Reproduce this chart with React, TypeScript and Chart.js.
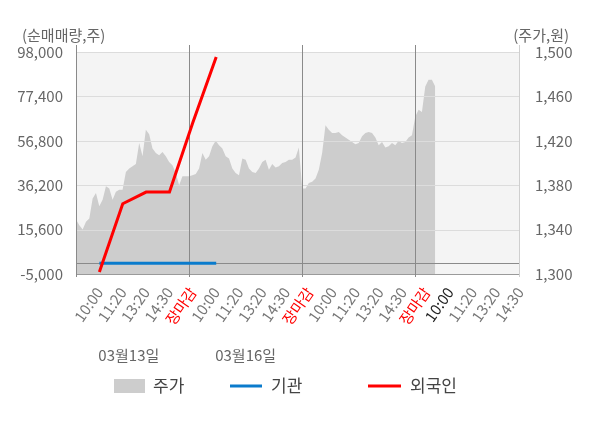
import React, { useEffect, useRef } from 'react';
import { Chart, registerables } from 'chart.js';

Chart.register(...registerables);

// x slots for investor data (category axis)
const slotLabels = [
  '', '10:00', '11:20', '13:20', '14:30', '장마감',
  '10:00', '11:20', '13:20', '14:30', '장마감',
  '10:00', '11:20', '13:20', '14:30', '장마감',
  '10:00', '11:20', '13:20', '14:30',
];
const CURRENT_SLOT = 16;

// net buying (shares)
const foreignNet = [null, -4100, 27600, 33000, 33000, 65300, 95700];
const instNet = [null, 0, 0, 0, 0, 0, 0];

const dateLabels = ['03월13일', '03월16일'];
const dateSlots = [1, 6];

// price (won), sampled evenly within each trading day
const day1Prices = [1349, 1344, 1340, 1347, 1350, 1368, 1373, 1361, 1367, 1379, 1377, 1367, 1374, 1376, 1376, 1392, 1395, 1397, 1399, 1418, 1406, 1430, 1426, 1413, 1409, 1407, 1410, 1406, 1401, 1398, 1391, 1380, 1388, 1388];
const day2Prices = [1388, 1389, 1390, 1395, 1409, 1403, 1406, 1415, 1420, 1416, 1413, 1406, 1404, 1395, 1391, 1389, 1404, 1403, 1395, 1392, 1391, 1395, 1401, 1403, 1394, 1399, 1396, 1397, 1400, 1401, 1403, 1403, 1405, 1414];
const day3Prices = [1377, 1377, 1382, 1383, 1386, 1394, 1409, 1434, 1430, 1427, 1427, 1428, 1425, 1423, 1421, 1419, 1417, 1418, 1424, 1427, 1428, 1427, 1423, 1416, 1419, 1414, 1415, 1418, 1416, 1420, 1418, 1419, 1423, 1425];
const day4Prices = [1442, 1448, 1446, 1469, 1475, 1475, 1469];
const SAMPLES_PER_DAY = 34;
const DAY_SPAN = 3.926;

const leftTicks = [-5000, 15600, 36200, 56800, 77400, 98000];
const rightTicks = [1300, 1340, 1380, 1420, 1460, 1500];

const legendLabels = ['주가', '기관', '외국인'];
const leftTitle = '(순매매량,주)';
const rightTitle = '(주가,원)';

const FONT = '"Noto Sans CJK KR", "Noto Sans", sans-serif';
const PRICE_COLOR = '#cdcdcd';
const INST_COLOR = '#0a7bcc';
const FOREIGN_COLOR = '#ff0000';

const pricePoints = [day1Prices, day2Prices, day3Prices, day4Prices].flatMap((arr, d) =>
  arr.map((p, i) => ({ x: d + i / SAMPLES_PER_DAY, y: p }))
);

const decorPlugin = {
  id: 'decor',
  beforeDraw(chart: any) {
    const { ctx, chartArea: a } = chart;
    ctx.save();
    ctx.fillStyle = '#f4f4f4';
    ctx.fillRect(a.left, a.top, a.right - a.left, a.bottom - a.top);
    ctx.restore();
  },
  afterDatasetDraw(chart: any, args: any) {
    if (args.index !== 0) return;
    const { ctx, chartArea: a, scales } = chart;
    const y = scales.y;
    const xp = scales.xp;
    ctx.save();
    ctx.lineWidth = 1;
    ctx.strokeStyle = '#dcdcdc';
    leftTicks.forEach((v) => {
      const py = Math.round(y.getPixelForValue(v)) + 0.5;
      ctx.beginPath();
      ctx.moveTo(a.left, py);
      ctx.lineTo(a.right, py);
      ctx.stroke();
    });
    ctx.strokeStyle = '#8a8a8a';
    const zy = Math.round(y.getPixelForValue(0)) + 0.5;
    ctx.beginPath();
    ctx.moveTo(a.left, zy);
    ctx.lineTo(a.right, zy);
    ctx.stroke();
    ctx.strokeStyle = '#9a9a9a';
    const by = Math.round(a.bottom) + 0.5;
    ctx.beginPath();
    ctx.moveTo(a.left, by);
    ctx.lineTo(a.right, by);
    ctx.stroke();
    ctx.strokeStyle = '#cfcfcf';
    const rx = Math.round(a.right) - 0.5;
    ctx.beginPath();
    ctx.moveTo(rx, a.top - 7);
    ctx.lineTo(rx, a.bottom + 3);
    ctx.stroke();
    ctx.strokeStyle = '#8a8a8a';
    [0, 1, 2, 3].forEach((d) => {
      const px = Math.floor(xp.getPixelForValue(d)) + 0.5;
      ctx.beginPath();
      ctx.moveTo(px, a.top - 7);
      ctx.lineTo(px, a.bottom + 3);
      ctx.stroke();
    });
    ctx.restore();
  },
  afterDraw(chart: any) {
    const { ctx, scales } = chart;
    const x = scales.x;
    ctx.save();
    ctx.font = `15px ${FONT}`;
    ctx.fillStyle = '#666';
    ctx.textBaseline = 'middle';
    ctx.textAlign = 'left';
    ctx.fillText(leftTitle, 22, 35);
    ctx.textAlign = 'right';
    ctx.fillText(rightTitle, 569, 35);
    ctx.textAlign = 'left';
    dateLabels.forEach((t, i) => {
      ctx.fillText(t, x.getPixelForValue(dateSlots[i]) - 1, 355);
    });
    const ly = 386;
    ctx.font = `17px ${FONT}`;
    ctx.fillStyle = PRICE_COLOR;
    ctx.fillRect(114, 379, 31, 14);
    ctx.fillStyle = '#444';
    ctx.fillText(legendLabels[0], 153, ly);
    ctx.lineWidth = 3;
    ctx.strokeStyle = INST_COLOR;
    ctx.beginPath();
    ctx.moveTo(230, ly);
    ctx.lineTo(262, ly);
    ctx.stroke();
    ctx.fillText(legendLabels[1], 271, ly);
    ctx.strokeStyle = FOREIGN_COLOR;
    ctx.beginPath();
    ctx.moveTo(368, ly);
    ctx.lineTo(401, ly);
    ctx.stroke();
    ctx.fillText(legendLabels[2], 410, ly);
    ctx.restore();
  },
};

export default function App() {
  const ref = useRef<HTMLCanvasElement | null>(null);
  useEffect(() => {
    if (!ref.current) return;
    const chart = new Chart(ref.current, {
      type: 'line',
      data: {
        labels: slotLabels,
        datasets: [
          {
            label: legendLabels[0],
            data: pricePoints as any,
            xAxisID: 'xp',
            yAxisID: 'yr',
            fill: 'start',
            backgroundColor: PRICE_COLOR,
            borderWidth: 0,
            borderColor: 'rgba(0,0,0,0)',
            pointRadius: 0,
            tension: 0,
            order: 10,
          },
          {
            label: legendLabels[1],
            data: instNet as any,
            xAxisID: 'x',
            yAxisID: 'y',
            borderColor: INST_COLOR,
            borderWidth: 3,
            pointRadius: 0,
            fill: false,
            tension: 0,
            order: 2,
          },
          {
            label: legendLabels[2],
            data: foreignNet as any,
            xAxisID: 'x',
            yAxisID: 'y',
            borderColor: FOREIGN_COLOR,
            borderWidth: 3,
            pointRadius: 0,
            fill: false,
            tension: 0,
            order: 1,
          },
        ],
      },
      options: {
        animation: false,
        responsive: false,
        events: [],
        layout: { padding: { top: 52, left: 0, right: 0, bottom: 0 } },
        plugins: { legend: { display: false }, tooltip: { enabled: false } },
        scales: {
          x: {
            type: 'category',
            position: 'bottom',
            offset: false,
            grid: { display: false },
            border: { display: false },
            ticks: {
              autoSkip: false,
              maxRotation: 55,
              minRotation: 55,
              padding: 2,
              font: { family: FONT, size: 15 },
              color: (c: any) => {
                const l = slotLabels[c.index];
                if (l === '장마감') return '#ff0000';
                if (c.index === CURRENT_SLOT) return '#222';
                return '#777';
              },
            },
            afterFit: (s: any) => { s.height = 154; },
          },
          xp: {
            type: 'linear',
            display: false,
            min: 0,
            max: DAY_SPAN,
          },
          y: {
            type: 'linear',
            position: 'left',
            min: -5000,
            max: 98000,
            grid: { display: false },
            border: { display: false },
            afterBuildTicks: (s: any) => { s.ticks = leftTicks.map((v) => ({ value: v })); },
            ticks: {
              padding: 5,
              color: '#666',
              font: { family: FONT, size: 15 },
              callback: (v: any) => Number(v).toLocaleString('en-US'),
            },
            afterFit: (s: any) => { s.width = 76; },
          },
          yr: {
            type: 'linear',
            position: 'right',
            min: 1300,
            max: 1500,
            grid: { display: false },
            border: { display: false },
            afterBuildTicks: (s: any) => { s.ticks = rightTicks.map((v) => ({ value: v })); },
            ticks: {
              padding: 7,
              color: '#666',
              font: { family: FONT, size: 15 },
              callback: (v: any) => Number(v).toLocaleString('en-US'),
            },
            afterFit: (s: any) => { s.width = 80; },
          },
        },
      },
      plugins: [decorPlugin],
    });
    return () => chart.destroy();
  }, []);
  return (
    <div style={{ position: 'fixed', left: 0, top: 0, width: 600, height: 428, background: '#fff' }}>
      <canvas ref={ref} width={600} height={428} />
    </div>
  );
}
